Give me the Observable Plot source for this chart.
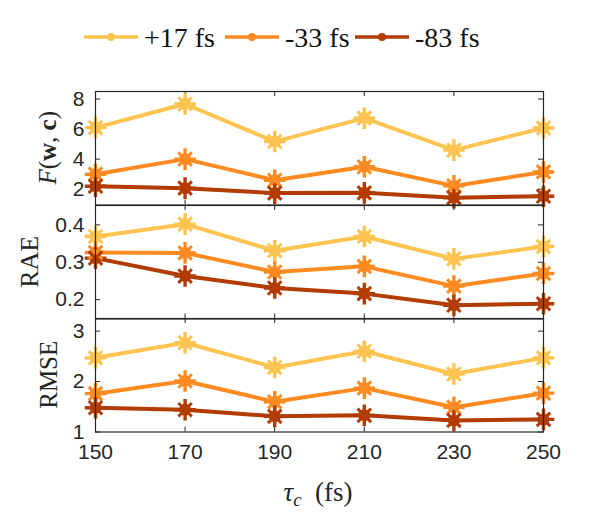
<!DOCTYPE html>
<html>
<head>
<meta charset="utf-8">
<script src="https://cdn.jsdelivr.net/npm/d3@7"></script>
<script src="https://cdn.jsdelivr.net/npm/@observablehq/plot@0.6"></script>
<style>
  html, body { margin: 0; padding: 0; background: #fff; }
  #chart { position: relative; width: 600px; height: 525px; overflow: hidden; background: #fff; }
  .panel { position: absolute; left: 0; }
  .panel svg { overflow: visible; background: transparent; }
  #legend { position: absolute; left: 0; top: 0; }
</style>
</head>
<body>
<div id="chart"></div>
<script>
// ---- data ----
const tau = [150, 170, 190, 210, 230, 250];
const series = ["+17 fs", "-33 fs", "-83 fs"];
const colors = ["#fec452", "#fd8b21", "#b23c02"];

const F17 = [6.10, 7.67, 5.17, 6.73, 4.60, 6.07];
const F33 = [3.00, 4.00, 2.60, 3.49, 2.22, 3.15];
const F83 = [2.20, 2.07, 1.74, 1.76, 1.44, 1.53];

const RAE17 = [0.369, 0.402, 0.331, 0.369, 0.309, 0.342];
const RAE33 = [0.326, 0.325, 0.274, 0.289, 0.236, 0.270];
const RAE83 = [0.311, 0.263, 0.231, 0.216, 0.185, 0.189];

const RMSE17 = [2.47, 2.77, 2.28, 2.60, 2.15, 2.47];
const RMSE33 = [1.76, 2.01, 1.60, 1.87, 1.49, 1.77];
const RMSE83 = [1.48, 1.44, 1.31, 1.33, 1.23, 1.25];

const xTicks = [150, 170, 190, 210, 230, 250];
const yTicksF = [2, 4, 6, 8];
const yTicksRAE = [0.2, 0.3, 0.4];
const yTicksRMSE = [1, 2, 3];

// ---- layout ----
const W = 600, mL = 95, mR = 57, PH = 113.5, pad = 12;
const axisColor = "#262626";
const tickFont = "Liberation Sans, Arial, Helvetica, sans-serif";
const serif = "Liberation Serif, DejaVu Serif, serif";

function table(vals) {
  const rows = [];
  vals.forEach((arr, si) => arr.forEach((v, i) => rows.push({tau: tau[i], value: v, series: series[si]})));
  return rows;
}

const chart = document.getElementById("chart");

function panel({top, data, domain, yTicks, yFormat, label, bottom}) {
  const mB = bottom ? pad + 40 : pad;
  const plotW = W - mL - mR;
  const marks = [
    // inward tick marks
    Plot.ruleX(xTicks, {x: d => d, stroke: axisColor, strokeWidth: 1, insetTop: PH - 5}),
    Plot.ruleX(xTicks, {x: d => d, stroke: axisColor, strokeWidth: 1, insetBottom: PH - 5}),
    Plot.ruleY(yTicks, {y: d => d, stroke: axisColor, strokeWidth: 1, insetRight: plotW - 5}),
    Plot.ruleY(yTicks, {y: d => d, stroke: axisColor, strokeWidth: 1, insetLeft: plotW - 5}),
    Plot.axisY(yTicks, {anchor: "left", tickSize: 0, tickPadding: 11, tickFormat: yFormat, fill: axisColor, label: null}),
  ];
  if (bottom) {
    marks.push(Plot.axisX(xTicks, {anchor: "bottom", tickSize: 0, tickPadding: 12, fill: axisColor, label: null, tickFormat: d => String(d)}));
  }
  marks.push(
    Plot.line(data, {x: "tau", y: "value", z: "series", stroke: "series", strokeWidth: 4, strokeLinejoin: "round"}),
    Plot.dot(data, {x: "tau", y: "value", fill: "series", r: 6, stroke: null}),
    Plot.dot(data, {x: "tau", y: "value", stroke: "series", symbol: "plus", r: 7, strokeWidth: 3.4}),
    Plot.dot(data, {x: "tau", y: "value", stroke: "series", symbol: "times", r: 6.2, strokeWidth: 3}),
    Plot.frame({stroke: axisColor, strokeWidth: 1.2})
  );
  const svg = Plot.plot({
    width: W,
    height: PH + pad + mB,
    marginLeft: mL,
    marginRight: mR,
    marginTop: pad,
    marginBottom: mB,
    x: {domain: [150, 250], axis: null},
    y: {domain, axis: null},
    color: {domain: series, range: colors},
    style: {fontSize: "21px", fontFamily: tickFont, background: "transparent", overflow: "visible"},
    marks
  });
  // y-axis label (rotated serif text with rich formatting)
  const s = d3.select(svg);
  const t = s.append("text")
    .attr("transform", `translate(${label.x},${pad + PH / 2}) rotate(-90)`)
    .attr("text-anchor", "middle")
    .style("font-family", serif)
    .style("font-size", label.size + "px")
    .attr("fill", axisColor);
  label.parts.forEach(p => {
    const ts = t.append("tspan").text(p.text);
    if (p.italic) ts.style("font-style", "italic");
    if (p.bold) ts.style("font-weight", "bold");
  });
  if (bottom) {
    const xl = s.append("text")
      .attr("x", 318).attr("y", pad + PH + 69)
      .attr("text-anchor", "middle")
      .style("font-family", serif)
      .style("font-size", "27px")
      .attr("fill", axisColor);
    xl.append("tspan").style("font-style", "italic").text("τ");
    xl.append("tspan").style("font-style", "italic").style("font-size", "19px").attr("dy", 5).text("c");
    xl.append("tspan").attr("dy", -5).text("\u2002(fs)");
  }
  const div = document.createElement("div");
  div.className = "panel";
  div.style.top = (top - pad) + "px";
  div.appendChild(svg);
  chart.appendChild(div);
}

panel({
  top: 91, data: table([F17, F33, F83]), domain: [0.95, 8.5], yTicks: yTicksF,
  yFormat: d => String(d),
  label: {x: 56, size: 25, parts: [
    {text: "F", italic: true}, {text: "("}, {text: "w", bold: true}, {text: ", "}, {text: "c", bold: true}, {text: ")"}
  ]}
});
panel({
  top: 204.5, data: table([RAE17, RAE33, RAE83]), domain: [0.148, 0.452], yTicks: yTicksRAE,
  yFormat: d => d.toFixed(1),
  label: {x: 38, size: 26, parts: [{text: "RAE"}]}
});
panel({
  top: 318, data: table([RMSE17, RMSE33, RMSE83]), domain: [1, 3.25], yTicks: yTicksRMSE,
  yFormat: d => String(d),
  label: {x: 57, size: 25, parts: [{text: "RMSE"}]},
  bottom: true
});

// ---- legend ----
const legend = d3.select(chart).append("svg")
  .attr("id", "legend").attr("width", W).attr("height", 70);
const lx = [84, 225, 355];
series.forEach((name, i) => {
  const g = legend.append("g");
  g.append("line").attr("x1", lx[i]).attr("x2", lx[i] + 54).attr("y1", 37).attr("y2", 37)
    .attr("stroke", colors[i]).attr("stroke-width", 3.5);
  g.append("circle").attr("cx", lx[i] + 27).attr("cy", 37).attr("r", 4).attr("fill", colors[i]);
  g.append("path").attr("d", d3.symbol(d3.symbolPlus || d3.symbolCross, 50)())
    .attr("transform", `translate(${lx[i] + 27},37)`).attr("fill", colors[i]);
  g.append("text").attr("x", lx[i] + 60).attr("y", 37).attr("dy", "0.36em")
    .style("font-family", serif).style("font-size", "28px").attr("fill", "#111").text(name);
});
</script>
</body>
</html>
